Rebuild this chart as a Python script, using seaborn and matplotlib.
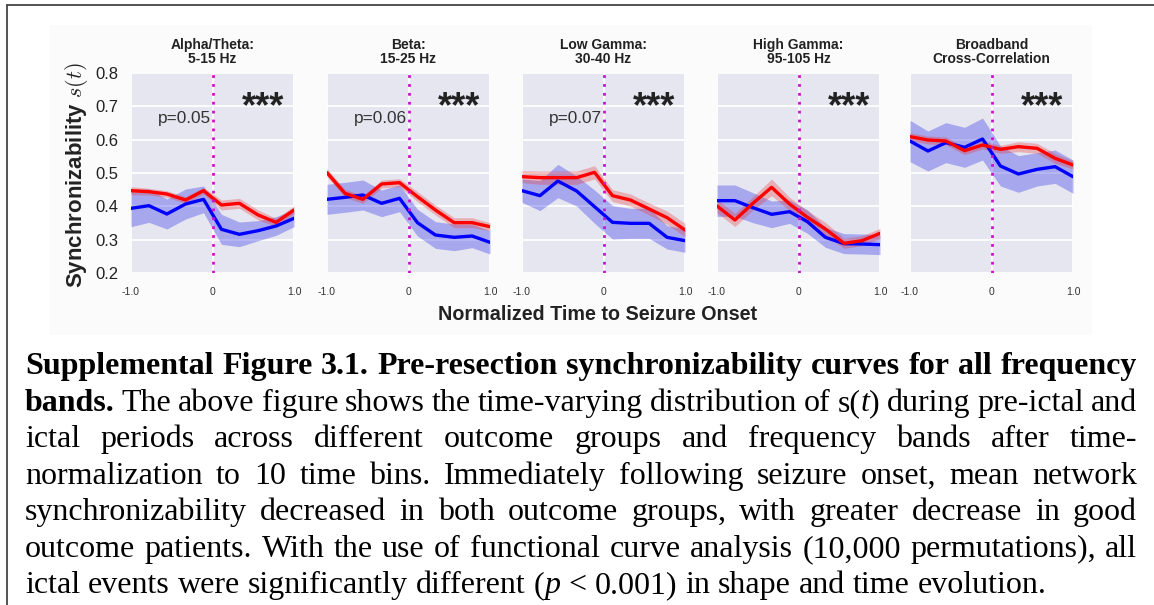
import matplotlib
matplotlib.use("Agg")
import numpy as np
import pandas as pd
import matplotlib.pyplot as plt
from matplotlib.lines import Line2D
from matplotlib.patches import Rectangle
import seaborn as sns

# ---------------- data ----------------
time_bins = [-1.0, -0.78, -0.56, -0.33, -0.11, 0.11, 0.33, 0.56, 0.78, 1.0]
band_titles = ["Alpha/Theta:\n5-15 Hz", "Beta:\n15-25 Hz", "Low Gamma:\n30-40 Hz",
               "High Gamma:\n95-105 Hz", "Broadband\nCross-Correlation"]
p_labels = ["p=0.05", "p=0.06", "p=0.07", "", ""]
sig_labels = ["***", "***", "***", "***", "***"]

red_alpha = [0.447, 0.444, 0.437, 0.419, 0.447, 0.404, 0.409, 0.374, 0.352, 0.389]
red_beta = [0.501, 0.439, 0.421, 0.467, 0.471, 0.429, 0.389, 0.351, 0.351, 0.339]
red_lowg = [0.489, 0.486, 0.486, 0.486, 0.502, 0.432, 0.419, 0.392, 0.366, 0.329]
red_highg = [0.401, 0.359, 0.409, 0.457, 0.407, 0.367, 0.332, 0.289, 0.297, 0.319]
red_broad = [0.609, 0.599, 0.596, 0.567, 0.584, 0.571, 0.579, 0.574, 0.544, 0.524]

blue_alpha = [0.394, 0.402, 0.377, 0.407, 0.421, 0.331, 0.316, 0.327, 0.341, 0.364]
blue_beta = [0.421, 0.427, 0.434, 0.409, 0.424, 0.351, 0.314, 0.307, 0.311, 0.292]
blue_lowg = [0.447, 0.432, 0.476, 0.446, 0.399, 0.352, 0.349, 0.349, 0.307, 0.297]
blue_highg = [0.417, 0.417, 0.396, 0.376, 0.384, 0.354, 0.307, 0.288, 0.287, 0.285]
blue_broad = [0.596, 0.566, 0.591, 0.577, 0.602, 0.521, 0.497, 0.511, 0.519, 0.489]

red_err_alpha = [0.012, 0.010, 0.010, 0.010, 0.010, 0.015, 0.015, 0.015, 0.012, 0.012]
red_err_beta = [0.012, 0.012, 0.012, 0.012, 0.012, 0.015, 0.015, 0.015, 0.015, 0.012]
red_err_lowg = [0.018, 0.020, 0.020, 0.020, 0.020, 0.018, 0.018, 0.018, 0.020, 0.020]
red_err_highg = [0.020, 0.020, 0.020, 0.025, 0.020, 0.020, 0.020, 0.015, 0.015, 0.015]
red_err_broad = [0.012, 0.012, 0.012, 0.012, 0.012, 0.012, 0.015, 0.015, 0.015, 0.012]

blue_err_alpha = [0.055, 0.050, 0.045, 0.045, 0.040, 0.045, 0.037, 0.030, 0.028, 0.025]
blue_err_beta = [0.045, 0.045, 0.045, 0.040, 0.040, 0.040, 0.040, 0.040, 0.035, 0.035]
blue_err_lowg = [0.035, 0.045, 0.050, 0.045, 0.050, 0.050, 0.045, 0.045, 0.035, 0.035]
blue_err_highg = [0.047, 0.047, 0.045, 0.040, 0.035, 0.035, 0.030, 0.030, 0.030, 0.030]
blue_err_broad = [0.062, 0.060, 0.060, 0.060, 0.063, 0.060, 0.055, 0.050, 0.050, 0.050]

red_means = [red_alpha, red_beta, red_lowg, red_highg, red_broad]
blue_means = [blue_alpha, blue_beta, blue_lowg, blue_highg, blue_broad]
red_errs = [red_err_alpha, red_err_beta, red_err_lowg, red_err_highg, red_err_broad]
blue_errs = [blue_err_alpha, blue_err_beta, blue_err_lowg, blue_err_highg, blue_err_broad]

y_ticks = [0.2, 0.3, 0.4, 0.5, 0.6, 0.7, 0.8]
x_ticks = [-1.0, 0.0, 1.0]
x_ticklabels = ["-1.0", "0", "1.0"]

caption_lines = [
    [("Supplemental Figure 3.1. Pre-resection synchronizability curves for all frequency", "bold", "normal")],
    [("bands.", "bold", "normal"),
     (" The above figure shows the time-varying distribution of s(", "normal", "normal"),
     ("t", "normal", "italic"), (") during pre-ictal and", "normal", "normal")],
    [("ictal periods across different outcome groups and frequency bands after time-", "normal", "normal")],
    [("normalization to 10 time bins. Immediately following seizure onset, mean network", "normal", "normal")],
    [("synchronizability decreased in both outcome groups, with greater decrease in good", "normal", "normal")],
    [("outcome patients. With the use of functional curve analysis (10,000 permutations), all", "normal", "normal")],
    [("ictal events were significantly different (", "normal", "normal"), ("p", "normal", "italic"),
     (" < 0.001) in shape and time evolution.", "normal", "normal")],
]

# ---------------- figure ----------------
sns.set_style("darkgrid", {"axes.facecolor": "#E6E6F1", "grid.color": "white"})
plt.rcParams["font.family"] = ["Liberation Sans", "DejaVu Sans"]
plt.rcParams["mathtext.fontset"] = "cm"

W, H = 1154, 605
fig = plt.figure(figsize=(W / 100, H / 100), dpi=100)
fig.patch.set_facecolor("white")

# faint figure area & page border
fig.patches.append(Rectangle((50 / W, 1 - 335 / H), (1092 - 50) / W, (335 - 25) / H,
                             transform=fig.transFigure, facecolor="#FBFBFC", edgecolor="none", zorder=-10))
fig.lines.append(Line2D([7 / W, 1.0], [1 - 5 / H, 1 - 5 / H], transform=fig.transFigure,
                        color="#444444", lw=1.3))
fig.lines.append(Line2D([7 / W, 7 / W], [0.0, 1 - 5 / H], transform=fig.transFigure,
                        color="#444444", lw=1.3))

lefts = [131, 327, 522, 717, 910]
ax_w = 163
ax_top, ax_bot = 73, 273

for i in range(5):
    ax = fig.add_axes([lefts[i] / W, 1 - ax_bot / H, ax_w / W, (ax_bot - ax_top) / H])
    df = pd.DataFrame({
        "t": time_bins * 2,
        "s": blue_means[i] + red_means[i],
        "group": ["good"] * len(time_bins) + ["poor"] * len(time_bins),
    })
    rm, re_ = np.array(red_means[i]), np.array(red_errs[i])
    bm, be = np.array(blue_means[i]), np.array(blue_errs[i])
    ax.fill_between(time_bins, bm - be, bm + be, color="#2828E6", alpha=0.33, lw=0, zorder=2)
    ax.fill_between(time_bins, rm - re_, rm + re_, color="#E83030", alpha=0.30, lw=0, zorder=2)
    sns.lineplot(data=df, x="t", y="s", hue="group", palette={"good": "#0000FF", "poor": "#FF0000"},
                 linewidth=2.4, legend=False, ax=ax, zorder=3)
    ax.axvline(0, color="#CC11CC", ls=(0, (1, 2.2)), lw=2.0, zorder=4)
    ax.set_xlim(-1, 1)
    ax.set_ylim(0.2, 0.8)
    ax.set_yticks(y_ticks)
    ax.set_xticks(x_ticks)
    ax.set_xticklabels(x_ticklabels, fontsize=7.5, color="#333333")
    ax.tick_params(axis="x", pad=10, length=0)
    ax.tick_params(axis="y", length=0, pad=9)
    if i == 0:
        ax.set_yticklabels([f"{v:.1f}" for v in y_ticks], fontsize=12, color="#222222")
    else:
        ax.set_yticklabels([])
    ax.grid(True, color="white", lw=1.3)
    ax.set_xlabel("")
    ax.set_ylabel("")
    for s in ax.spines.values():
        s.set_visible(False)
    ax.set_title(band_titles[i], fontsize=10, fontweight="bold", pad=7, linespacing=1.05, color="#222222")
    ax.text(0.62, 0.695, sig_labels[i], fontsize=26, fontweight="bold", ha="center", va="center",
            color="#222222", zorder=5)
    if p_labels[i]:
        ax.text(-0.02, 0.662, p_labels[i], fontsize=12.4, ha="right", va="center", color="#333333", zorder=5)

fig.text(77 / W, 1 - 175 / H, "Synchronizability $s(t)$", rotation=90, ha="center", va="center",
         fontsize=16, fontweight="bold", color="#222222")
fig.text(598 / W, 1 - 314 / H, "Normalized Time to Seizure Onset", ha="center", va="center",
         fontsize=14.2, fontweight="bold", color="#222222")

# ---------------- caption (justified) ----------------
renderer = fig.canvas.get_renderer()
serif = ["Liberation Serif", "DejaVu Serif"]


def measure(txt, fs, weight, style):
    t = fig.text(0, 0, txt, fontsize=fs, family=serif, fontweight=weight, fontstyle=style)
    w = t.get_window_extent(renderer).width
    t.remove()
    return w


def tokenize(runs):
    toks, cur = [], []
    for text, w, s in runs:
        parts = text.split(" ")
        for k, p in enumerate(parts):
            if k > 0 and cur:
                toks.append(cur)
                cur = []
            if p:
                cur.append((p, w, s))
    if cur:
        toks.append(cur)
    return toks


# size the caption so that the last (unjustified) line spans ~1024 px
fs0 = 20.0
last_txt_w = sum(measure(t, fs0, w, s) for t, w, s in caption_lines[-1])
cap_fs = fs0 * 1022 / last_txt_w
space_w = measure("x x", cap_fs, "normal", "normal") - measure("xx", cap_fs, "normal", "normal")

x_left, x_right = 25, 1137
baselines = [374, 411, 447, 484, 520, 557, 593]
for li, runs in enumerate(caption_lines):
    toks = tokenize(runs)
    widths = [[measure(p, cap_fs, w, s) for p, w, s in tok] for tok in toks]
    total = sum(sum(ws) for ws in widths)
    if li < len(caption_lines) - 1 and len(toks) > 1:
        gap = (x_right - x_left - total) / (len(toks) - 1)
    else:
        gap = space_w
    x = x_left
    for tok, ws in zip(toks, widths):
        for (p, w, s), pw in zip(tok, ws):
            fig.text(x / W, 1 - baselines[li] / H, p, fontsize=cap_fs, family=serif, fontweight=w,
                     fontstyle=s, ha="left", va="baseline", color="black")
            x += pw
        x += gap

fig.savefig("out.png", dpi=100, facecolor="white")
